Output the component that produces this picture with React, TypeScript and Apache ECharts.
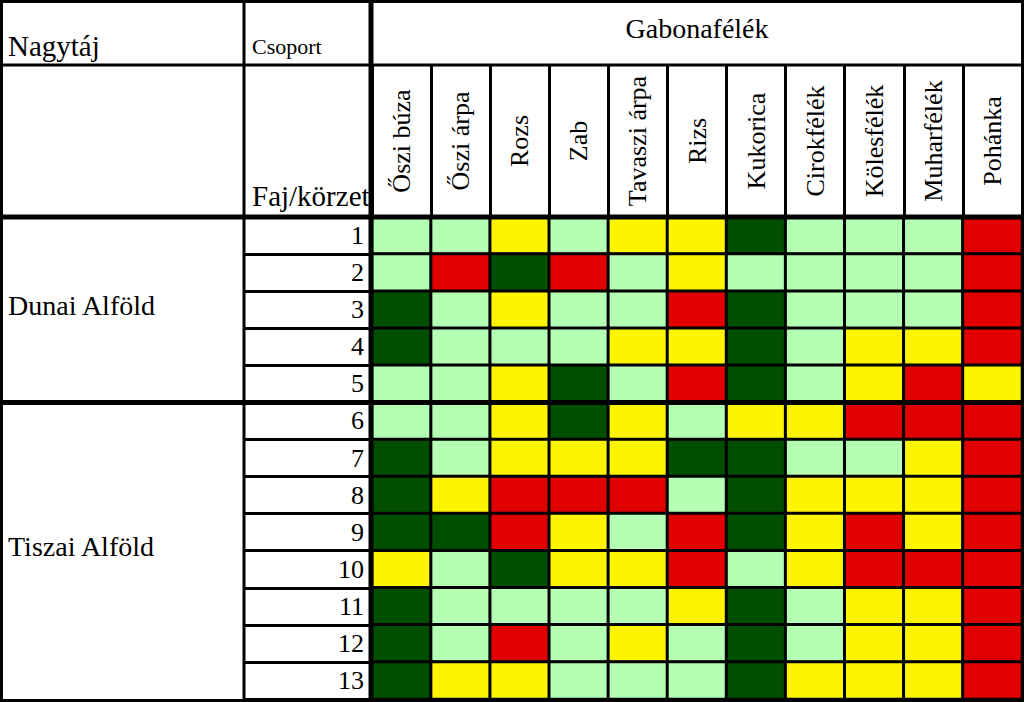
import React, { useEffect, useRef } from "react";
import * as echarts from "echarts";

// ---- data ----
const columns = [
  "Őszi búza",
  "Őszi árpa",
  "Rozs",
  "Zab",
  "Tavaszi árpa",
  "Rizs",
  "Kukorica",
  "Cirokfélék",
  "Kölesfélék",
  "Muharfélék",
  "Pohánka",
];
const groups = ["1", "2", "3", "4", "5", "6", "7", "8", "9", "10", "11", "12", "13"];
const regions = ["Dunai Alföld", "Tiszai Alföld"];
const regionRowCounts = [5, 8];
const headerTitle = "Gabonafélék";
const headerRegion = "Nagytáj";
const headerGroup = "Csoport";
const headerSpecies = "Faj/körzet";

// rating codes: D = dark green, L = light green, Y = yellow, R = red
const ratingCodes = ["D", "L", "Y", "R"];
const ratingColors = ["#004f00", "#b5ffb5", "#fdf500", "#e10000"];

const dunaiRatings = [
  ["L", "L", "Y", "L", "Y", "Y", "D", "L", "L", "L", "R"],
  ["L", "R", "D", "R", "L", "Y", "L", "L", "L", "L", "R"],
  ["D", "L", "Y", "L", "L", "R", "D", "L", "L", "L", "R"],
  ["D", "L", "L", "L", "Y", "Y", "D", "L", "Y", "Y", "R"],
  ["L", "L", "Y", "D", "L", "R", "D", "L", "Y", "R", "Y"],
];
const tiszaiRatings = [
  ["L", "L", "Y", "D", "Y", "L", "Y", "Y", "R", "R", "R"],
  ["D", "L", "Y", "Y", "Y", "D", "D", "L", "L", "Y", "R"],
  ["D", "Y", "R", "R", "R", "L", "D", "Y", "Y", "Y", "R"],
  ["D", "D", "R", "Y", "L", "R", "D", "Y", "R", "Y", "R"],
  ["Y", "L", "D", "Y", "Y", "R", "L", "Y", "R", "R", "R"],
  ["D", "L", "L", "L", "L", "Y", "D", "L", "Y", "Y", "R"],
  ["D", "L", "R", "L", "Y", "L", "D", "L", "Y", "Y", "R"],
  ["D", "Y", "Y", "L", "L", "L", "D", "Y", "Y", "Y", "R"],
];

const FONT = "'Liberation Serif', 'Times New Roman', serif";

export default function App() {
  const ref = useRef<HTMLDivElement>(null);

  useEffect(() => {
    if (!ref.current) return;
    const chart = echarts.init(ref.current, null, { renderer: "svg" });

    const allRows = [...dunaiRatings, ...tiszaiRatings];
    const data: number[][] = [];
    allRows.forEach((row, r) => {
      row.forEach((code, c) => {
        data.push([c, r, ratingCodes.indexOf(code)]);
      });
    });

    const option: any = {
      animation: false,
      backgroundColor: "#ffffff",
      textStyle: { fontFamily: FONT },
      grid: [
        { left: 372, right: 2, top: 217, bottom: 3, show: false },
        { left: 244, width: 128, top: 217, bottom: 3, show: false },
        { left: 372, right: 2, top: 65, height: 152, show: false },
      ],
      xAxis: [
        {
          gridIndex: 0,
          type: "category",
          position: "top",
          data: columns,
          axisLine: { show: false },
          axisTick: { show: false },
          splitLine: { show: false },
          axisLabel: {
            interval: 0,
            rotate: -90,
            align: "center",
            verticalAlign: "middle",
            margin: 76,
            fontSize: 26,
            color: "#000",
            fontFamily: FONT,
          },
        },
        { gridIndex: 1, type: "value", show: false },
        {
          gridIndex: 2,
          type: "category",
          data: columns,
          axisLine: { show: false },
          axisTick: { show: false },
          axisLabel: { show: false },
          splitLine: { show: true, interval: 0, lineStyle: { color: "#000", width: 3 } },
        },
      ],
      yAxis: [
        {
          gridIndex: 0,
          type: "category",
          inverse: true,
          data: groups,
          axisLine: { show: false },
          axisTick: { show: false },
          splitLine: { show: false },
          axisLabel: {
            interval: 0,
            margin: 8,
            fontSize: 26,
            color: "#000",
            fontFamily: FONT,
          },
        },
        {
          gridIndex: 1,
          type: "category",
          inverse: true,
          data: groups,
          axisLine: { show: false },
          axisTick: { show: false },
          axisLabel: { show: false },
          splitLine: { show: true, interval: 0, lineStyle: { color: "#000", width: 3 } },
        },
        { gridIndex: 2, type: "value", show: false },
      ],
      visualMap: {
        show: false,
        type: "piecewise",
        dimension: 2,
        seriesIndex: 0,
        pieces: ratingColors.map((color, i) => ({ value: i, color })),
      },
      series: [
        {
          type: "heatmap",
          xAxisIndex: 0,
          yAxisIndex: 0,
          data,
          itemStyle: { borderColor: "#000", borderWidth: 3 },
          emphasis: { disabled: true },
        },
      ],
    };
    chart.setOption(option);

    // derive row boundaries from the axis scale
    const yAt = (i: number) => chart.convertToPixel({ yAxisIndex: 0 } as any, groups[i]) as number;
    const xAt = (i: number) => chart.convertToPixel({ xAxisIndex: 0 } as any, columns[i]) as number;
    const rowH = yAt(1) - yAt(0);
    const colW = xAt(1) - xAt(0);
    const topY = yAt(0) - rowH / 2;
    const regionBounds: number[] = [topY];
    let acc = 0;
    regionRowCounts.forEach((n) => {
      acc += n;
      regionBounds.push(yAt(acc - 1) + rowH / 2);
    });
    const gridLeft = xAt(0) - colW / 2;
    const gridRight = xAt(columns.length - 1) + colW / 2;

    const W = 1024;
    const H = 702;
    const line = (x1: number, y1: number, x2: number, y2: number, w: number) => ({
      type: "line",
      z: 10,
      shape: { x1, y1, x2, y2 },
      style: { stroke: "#000", lineWidth: w },
    });
    const text = (
      t: string,
      x: number,
      y: number,
      size: number,
      align: string = "left"
    ) => ({
      type: "text",
      z: 5,
      x,
      y,
      style: {
        text: t,
        fill: "#000",
        font: `${size}px ${FONT}`,
        align,
        verticalAlign: "middle",
      },
    });

    const graphic: any[] = [
      text(headerRegion, 8, 45.5, 29),
      text(headerGroup, 252, 46.5, 22),
      text(headerSpecies, 252, 195.5, 29),
      text(headerTitle, (gridLeft + gridRight) / 2, 28, 28, "center"),
      ...regions.map((r, i) =>
        text(r, 8, (regionBounds[i] + regionBounds[i + 1]) / 2 - 4.5, 28)
      ),
      line(0, 65, W, 65, 3),
      line(0, topY, W, topY, 5),
      ...regionBounds.slice(1, -1).map((y) => line(0, y, W, y, 5)),
      line(244, 0, 244, H, 3),
      line(gridLeft - 1, 0, gridLeft - 1, H, 5),
      {
        type: "rect",
        z: 11,
        shape: { x: 1.5, y: 1.5, width: W - 3, height: H - 3 },
        style: { fill: "none", stroke: "#000", lineWidth: 3 },
      },
    ];
    chart.setOption({ graphic });

    return () => chart.dispose();
  }, []);

  return (
    <div
      ref={ref}
      style={{ position: "fixed", left: 0, top: 0, width: 1024, height: 702, background: "#fff" }}
    />
  );
}
